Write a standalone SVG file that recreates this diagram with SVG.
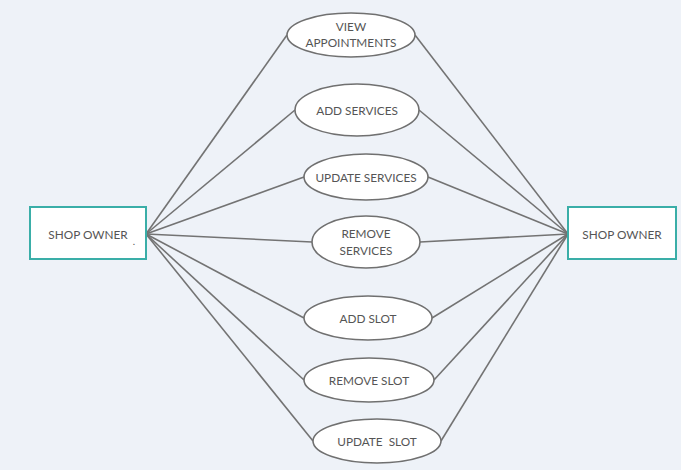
<svg xmlns="http://www.w3.org/2000/svg" width="681" height="470" viewBox="0 0 681 470">
<style>
.bg{fill:#eef2f8}
.actor{fill:#ffffff;stroke:#3aaea8;stroke-width:2}
.uc{fill:#ffffff;stroke:#707070;stroke-width:1.6}
.ln{stroke:#737373;stroke-width:1.6;fill:none}
text{font-family:Lato,"Open Sans","Liberation Sans",sans-serif;font-size:11.8px;fill:#555555;text-anchor:middle}
</style>
<rect class="bg" x="0" y="0" width="681" height="470"/>
<g id="connectors">
<line class="ln" x1="146" y1="234" x2="287" y2="35"/>
<line class="ln" x1="146" y1="234" x2="295" y2="110"/>
<line class="ln" x1="146" y1="234" x2="304" y2="177"/>
<line class="ln" x1="146" y1="234" x2="312" y2="242"/>
<line class="ln" x1="146" y1="234" x2="304" y2="318"/>
<line class="ln" x1="146" y1="234" x2="304" y2="380"/>
<line class="ln" x1="146" y1="234" x2="313" y2="441"/>
<line class="ln" x1="415" y1="35" x2="568" y2="234"/>
<line class="ln" x1="419" y1="110" x2="568" y2="234"/>
<line class="ln" x1="428" y1="177" x2="568" y2="234"/>
<line class="ln" x1="420" y1="242" x2="568" y2="234"/>
<line class="ln" x1="432" y1="318" x2="568" y2="234"/>
<line class="ln" x1="434" y1="380" x2="568" y2="234"/>
<line class="ln" x1="441" y1="441" x2="568" y2="234"/>
</g>
<g id="shop-owner-left">
<rect class="actor" x="30" y="207" width="116" height="52"/>
<text x="88" y="239">SHOP OWNER</text>
<text x="134" y="245" style="font-size:10px">.</text>
</g>
<g id="shop-owner-right">
<rect class="actor" x="568" y="207" width="108" height="52"/>
<text x="622" y="239">SHOP OWNER</text>
</g>
<g id="view-appointments">
<ellipse class="uc" cx="351" cy="35" rx="64" ry="22"/>
<text x="351" y="31">VIEW</text>
<text x="351" y="47">APPOINTMENTS</text>
</g>
<g id="add-services">
<ellipse class="uc" cx="357" cy="110" rx="62" ry="26"/>
<text x="357" y="115">ADD SERVICES</text>
</g>
<g id="update-services">
<ellipse class="uc" cx="366" cy="177" rx="62" ry="23"/>
<text x="366" y="182">UPDATE SERVICES</text>
</g>
<g id="remove-services">
<ellipse class="uc" cx="366" cy="242" rx="54" ry="26"/>
<text x="366" y="238">REMOVE</text>
<text x="366" y="255">SERVICES</text>
</g>
<g id="add-slot">
<ellipse class="uc" cx="368" cy="318" rx="64" ry="22"/>
<text x="368" y="323">ADD SLOT</text>
</g>
<g id="remove-slot">
<ellipse class="uc" cx="369" cy="380" rx="65" ry="22"/>
<text x="369" y="385">REMOVE SLOT</text>
</g>
<g id="update-slot">
<ellipse class="uc" cx="377" cy="441" rx="64" ry="22"/>
<text x="377" y="446" xml:space="preserve">UPDATE  SLOT</text>
</g>
</svg>
